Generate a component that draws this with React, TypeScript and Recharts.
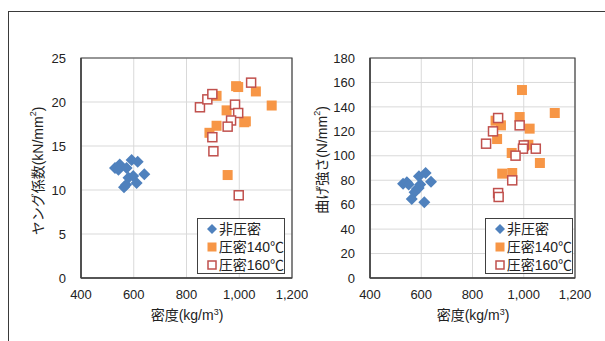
import React from 'react';
import { ScatterChart, Scatter, XAxis, YAxis, CartesianGrid, ReferenceArea, Legend } from 'recharts';

// ---- data ----
const densityTicks = [400, 600, 800, 1000, 1200];
const youngTicks = [0, 5, 10, 15, 20, 25];
const bendTicks = [0, 20, 40, 60, 80, 100, 120, 140, 160, 180];
const seriesNames = ['非圧密', '圧密140℃', '圧密160℃'];

// Young's modulus chart
const youngUncompDensity = [529, 547, 542, 573, 592, 615, 640, 580, 598, 611, 563, 571];
const youngUncompValue = [12.5, 12.9, 12.3, 12.5, 13.4, 13.2, 11.8, 11.4, 11.6, 10.8, 10.3, 10.6];
const young140Density = [988, 996, 1063, 1123, 914, 952, 914, 887, 1019, 1025, 956];
const young140Value = [21.8, 21.7, 21.2, 19.6, 20.7, 19.05, 17.3, 16.5, 17.7, 17.8, 11.7];
const young160Density = [851, 879, 898, 1045, 984, 996, 969, 956, 898, 902, 998];
const young160Value = [19.4, 20.3, 20.9, 22.2, 19.7, 18.75, 17.9, 17.2, 16.0, 14.4, 9.4];

// Bending strength chart
const bendUncompDensity = [529, 544, 551, 591, 617, 638, 596, 583, 574, 563, 612, 590];
const bendUncompValue = [77.2, 78.3, 76.4, 83.2, 85.9, 78.8, 76.4, 72.8, 70.1, 64.6, 61.9, 73.6];
const bend140Density = [993, 1121, 984, 890, 911, 1023, 896, 1018, 953, 1063, 916, 955];
const bend140Value = [153.8, 135, 131.7, 128.7, 124.9, 122.2, 113.7, 109, 102.3, 94.1, 85.4, 85.9];
const bend160Density = [900, 984, 880, 853, 1000, 997, 1047, 968, 955, 900, 902];
const bend160Value = [130.9, 124.9, 120, 109.9, 108.5, 105.8, 105.8, 100.1, 79.9, 69.5, 66.3];

const zip = (xs: number[], ys: number[]) => xs.map((x, i) => ({ x, y: ys[i] }));

const BLUE = '#4f81bd';
const ORANGE = '#f79646';
const RED = '#c0504d';
const AXIS = '#404040';
const TEXT = '#222';
const FONT = '"Liberation Sans", Arial, "Noto Sans CJK JP", sans-serif';

const Diamond = (p: any) => {
  const { cx, cy } = p;
  const r = 6;
  return <path d={`M${cx},${cy - r}L${cx + r},${cy}L${cx},${cy + r}L${cx - r},${cy}Z`} fill={BLUE} />;
};
const FilledSquare = (p: any) => {
  const { cx, cy } = p;
  return <rect x={cx - 5} y={cy - 5} width={10} height={10} fill={ORANGE} />;
};
const OpenSquare = (p: any) => {
  const { cx, cy } = p;
  return <rect x={cx - 4.5} y={cy - 4.5} width={9} height={9} fill="#fff" stroke={RED} strokeWidth={1.5} />;
};

const LegendBox = () => {
  const icons = [
    <svg width={10} height={10} key="a"><path d="M5,0L10,5L5,10L0,5Z" fill={BLUE} /></svg>,
    <svg width={10} height={10} key="b"><rect x={0.5} y={0.5} width={9} height={9} fill={ORANGE} /></svg>,
    <svg width={10} height={10} key="c"><rect x={1} y={1} width={8} height={8} fill="#fff" stroke={RED} strokeWidth={1.5} /></svg>,
  ];
  return (
    <div style={{ border: `1px solid ${AXIS}`, background: '#fff', width: 86, height: 53, fontFamily: FONT, fontSize: 14, color: TEXT, paddingTop: 1, boxSizing: 'content-box' }}>
      {seriesNames.map((n, i) => (
        <div key={n} style={{ display: 'flex', alignItems: 'center', height: 18, lineHeight: '18px', paddingLeft: 9, whiteSpace: 'nowrap' }}>
          {icons[i]}
          <span style={{ marginLeft: 2 }}>{n}</span>
        </div>
      ))}
    </div>
  );
};

type PanelProps = {
  width: number;
  marginLeft: number;
  marginRight: number;
  yTicks: number[];
  yMax: number;
  yTitle: string;
  yTitleX: number;
  yTitleY: number;
  xTitleX: number;
  legendLeft: number;
  s1: { x: number; y: number }[];
  s2: { x: number; y: number }[];
  s3: { x: number; y: number }[];
};

const Panel = (p: PanelProps) => (
  <ScatterChart width={p.width} height={341} margin={{ top: 58, bottom: 33, left: p.marginLeft, right: p.marginRight }} style={{ fontFamily: FONT }}>
    <CartesianGrid stroke="#d9d9d9" strokeWidth={1} />
    <XAxis
      type="number"
      dataKey="x"
      domain={[400, 1200]}
      ticks={densityTicks}
      tickFormatter={(v: number) => v.toLocaleString('en-US')}
      height={30}
      axisLine={{ stroke: AXIS, strokeWidth: 1.5 }}
      tickLine={false}
      tickSize={0}
      tickMargin={12}
      tick={{ fill: TEXT, fontSize: 13, fontFamily: FONT }}
      label={{
        content: () => (
          <text x={p.xTitleX} y={320} textAnchor="middle" fill={TEXT} fontSize={14} fontFamily={FONT}>
            密度(kg/m<tspan dy={-5} fontSize={9}>3</tspan><tspan dy={5}>)</tspan>
          </text>
        ),
      }}
    />
    <YAxis
      type="number"
      dataKey="y"
      domain={[0, p.yMax]}
      ticks={p.yTicks}
      width={40}
      axisLine={{ stroke: AXIS, strokeWidth: 1.5 }}
      tickLine={false}
      tickSize={0}
      tickMargin={15}
      tick={{ fill: TEXT, fontSize: 13, fontFamily: FONT }}
      label={{
        content: () => (
          <text
            x={p.yTitleX}
            y={p.yTitleY}
            transform={`rotate(-90, ${p.yTitleX}, ${p.yTitleY})`}
            textAnchor="middle"
            dominantBaseline="central"
            fill={TEXT}
            fontSize={14}
            fontFamily={FONT}
          >
            {p.yTitle}(<tspan>{p.yTitle.startsWith('ヤ') ? 'kN' : 'N'}/mm</tspan><tspan dy={-5} fontSize={9}>2</tspan><tspan dy={5}>)</tspan>
          </text>
        ),
      }}
    />
    <ReferenceArea x1={400} x2={1200} y1={0} y2={p.yMax} fill="none" stroke={AXIS} strokeWidth={1.2} ifOverflow="visible" />
    <Scatter name={seriesNames[0]} data={p.s1} shape={Diamond} isAnimationActive={false} />
    <Scatter name={seriesNames[1]} data={p.s2} shape={FilledSquare} isAnimationActive={false} />
    <Scatter name={seriesNames[2]} data={p.s3} shape={OpenSquare} isAnimationActive={false} />
    <Legend
      layout="horizontal"
      verticalAlign="middle"
      align="center"
      wrapperStyle={{ left: p.legendLeft, top: 218, width: 88, height: 55 }}
      content={() => <LegendBox />}
    />
  </ScatterChart>
);

export default function App() {
  return (
    <div style={{ position: 'absolute', left: 0, top: 0, width: 605, height: 341, overflow: 'hidden', background: '#fff' }}>
      <div style={{ position: 'absolute', left: 8, top: 11, width: 700, height: 400, border: '1px solid #3a3a3a' }} />
      <div style={{ position: 'absolute', left: 0, top: 0 }}>
        <Panel
          width={308}
          marginLeft={41}
          marginRight={16}
          yTicks={youngTicks}
          yMax={25}
          yTitle="ヤング係数"
          yTitleX={38}
          yTitleY={171}
          xTitleX={187}
          legendLeft={197}
          s1={zip(youngUncompDensity, youngUncompValue)}
          s2={zip(young140Density, young140Value)}
          s3={zip(young160Density, young160Value)}
        />
      </div>
      <div style={{ position: 'absolute', left: 300, top: 0 }}>
        <Panel
          width={305}
          marginLeft={30}
          marginRight={30}
          yTicks={bendTicks}
          yMax={180}
          yTitle="曲げ強さ"
          yTitleX={22}
          yTitleY={160}
          xTitleX={173}
          legendLeft={185}
          s1={zip(bendUncompDensity, bendUncompValue)}
          s2={zip(bend140Density, bend140Value)}
          s3={zip(bend160Density, bend160Value)}
        />
      </div>
    </div>
  );
}
